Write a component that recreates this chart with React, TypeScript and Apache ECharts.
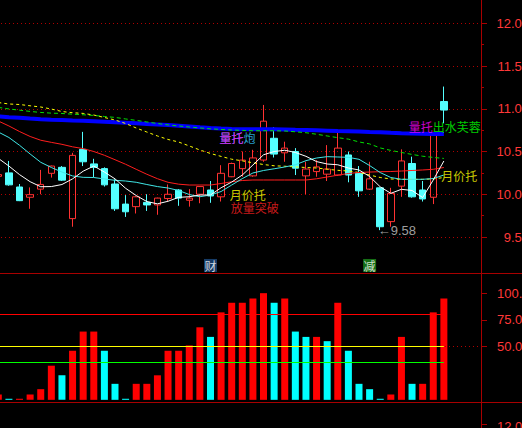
import React, { useEffect, useRef } from 'react';
import * as echarts from 'echarts';

// ---------- data ----------
const categories = Array.from({ length: 46 }, (_, i) => String(i + 1));

// [open, close, low, high]
const ohlc: number[][] = [
  [10.21, 10.23, 10.19, 10.25],
  [10.25, 10.11, 10.10, 10.39],
  [10.085, 9.925, 9.92, 10.12],
  [9.965, 9.995, 9.83, 10.08],
  [10.06, 10.115, 10.0, 10.285],
  [10.245, 10.33, 10.195, 10.335],
  [10.315, 10.165, 10.155, 10.33],
  [9.715, 10.455, 9.62, 10.485],
  [10.525, 10.38, 10.33, 10.73],
  [10.355, 10.315, 10.2, 10.415],
  [10.30, 10.11, 10.09, 10.315],
  [10.12, 9.83, 9.805, 10.175],
  [9.885, 9.795, 9.735, 9.99],
  [9.855, 9.97, 9.775, 9.98],
  [9.905, 9.875, 9.805, 10.0],
  [9.875, 9.955, 9.76, 9.96],
  [9.95, 10.0, 9.92, 10.115],
  [10.05, 9.955, 9.865, 10.06],
  [9.93, 9.955, 9.855, 10.06],
  [10.0, 10.09, 9.895, 10.095],
  [10.05, 9.98, 9.90, 10.155],
  [9.97, 10.245, 9.915, 10.34],
  [10.205, 10.36, 10.2, 10.37],
  [10.30, 10.40, 10.205, 10.50],
  [10.215, 10.425, 10.205, 10.52],
  [10.40, 10.855, 10.38, 11.045],
  [10.655, 10.47, 10.43, 10.785],
  [10.485, 10.54, 10.38, 10.615],
  [10.50, 10.305, 10.225, 10.54],
  [10.215, 10.295, 10.0, 10.38],
  [10.265, 10.32, 10.205, 10.40],
  [10.235, 10.295, 10.155, 10.575],
  [10.225, 10.54, 10.215, 10.72],
  [10.46, 10.225, 10.14, 10.50],
  [10.245, 10.04, 9.97, 10.33],
  [10.06, 10.18, 10.05, 10.38],
  [10.075, 9.62, 9.58, 10.08],
  [9.68, 10.01, 9.62, 10.075],
  [10.095, 10.39, 9.97, 10.525],
  [10.36, 9.97, 9.96, 10.44],
  [10.05, 9.945, 9.915, 10.155],
  [9.965, 10.72, 9.885, 10.73],
  [11.085, 10.985, 10.83, 11.26],
];

const ma5 = [10.42, 10.33, 10.23, 10.147, 10.088, 10.09, 10.114, 10.18, 10.27, 10.33, 10.26, 10.18, 10.07, 9.985, 9.915, 9.888, 9.918, 9.964, 9.971, 9.991, 9.991, 10.076, 10.143, 10.225, 10.342, 10.462, 10.5, 10.515, 10.489, 10.444, 10.382, 10.354, 10.345, 10.307, 10.284, 10.208, 10.087, 10.011, 10.058, 10.044, 9.962, 10.167, 10.389];
const ma10 = [10.728, 10.664, 10.573, 10.471, 10.374, 10.313, 10.26, 10.214, 10.198, 10.196, 10.179, 10.163, 10.155, 10.14, 10.114, 10.09, 10.073, 10.044, 9.997, 9.971, 9.991, 10.032, 10.108, 10.183, 10.249, 10.278, 10.298, 10.319, 10.345, 10.393, 10.424, 10.44, 10.436, 10.432, 10.409, 10.336, 10.254, 10.196, 10.175, 10.175, 10.175, 10.184, 10.225];
const ma20 = [10.857, 10.799, 10.734, 10.676, 10.632, 10.607, 10.584, 10.555, 10.534, 10.5, 10.456, 10.404, 10.351, 10.292, 10.234, 10.182, 10.14, 10.118, 10.108, 10.108, 10.108, 10.126, 10.146, 10.161, 10.167, 10.167, 10.167, 10.167, 10.167, 10.167, 10.181, 10.202, 10.223, 10.243, 10.255, 10.26, 10.264, 10.266, 10.272, 10.278, 10.284, 10.292, 10.313];
const ma60 = [11.073, 11.056, 11.05, 11.035, 11.021, 10.997, 10.968, 10.954, 10.946, 10.927, 10.898, 10.869, 10.828, 10.775, 10.728, 10.682, 10.641, 10.611, 10.565, 10.518, 10.477, 10.443, 10.41, 10.391, 10.368, 10.348, 10.333, 10.328, 10.32, 10.313, 10.307, 10.293, 10.28, 10.272, 10.255, 10.225, 10.196, 10.179, 10.175, 10.175, 10.175, 10.179, 10.196];
const ma120 = [11.016, 10.998, 10.984, 10.969, 10.957, 10.949, 10.945, 10.937, 10.93, 10.922, 10.91, 10.899, 10.881, 10.864, 10.846, 10.828, 10.811, 10.799, 10.787, 10.776, 10.766, 10.758, 10.752, 10.747, 10.743, 10.743, 10.743, 10.74, 10.731, 10.72, 10.702, 10.682, 10.662, 10.645, 10.612, 10.589, 10.542, 10.513, 10.489, 10.466, 10.445, 10.431, 10.419];
const ma250 = [10.91, 10.901, 10.896, 10.886, 10.877, 10.872, 10.869, 10.863, 10.859, 10.854, 10.849, 10.842, 10.837, 10.83, 10.822, 10.816, 10.81, 10.802, 10.793, 10.783, 10.775, 10.768, 10.763, 10.761, 10.76, 10.76, 10.76, 10.758, 10.754, 10.752, 10.748, 10.744, 10.74, 10.737, 10.733, 10.728, 10.725, 10.719, 10.714, 10.711, 10.709, 10.706, 10.705];

const indicator = [5, 1, 1, 5, 10, 32, 23, 46, 64, 64, 46, 15, 1, 15, 15, 23, 46, 46, 51, 68, 59, 82, 91, 91, 95, 100, 91, 95, 64, 59, 59, 55, 91, 46, 15, 10, 1, 5, 59, 15, 15, 82, 95];
const indicatorUp = [1, 0, 1, 1, 1, 1, 0, 1, 1, 1, 0, 0, 0, 1, 1, 1, 1, 1, 1, 1, 0, 1, 1, 1, 1, 1, 0, 1, 0, 0, 1, 0, 1, 0, 0, 0, 0, 1, 1, 0, 1, 1, 1];
const levelHigh = 80;
const levelMid = 50;
const levelLow = 35;

const thirdPanelTopLabel = '12.00';

const annotations = [
  { index: 21, price: 10.664, text: '量托炮' },
  { index: 21, price: 10.664, text: '量托' },
  { index: 22, price: 10.003, text: '月价托' },
  { index: 22, price: 9.845, text: '放量突破' },
  { index: 41, price: 10.793, text: '量托' },
  { index: 41, price: 10.793, text: '出水芙蓉' },
  { index: 42, price: 10.225, text: '月价托' },
  { index: 36, price: 9.58, text: '←9.58' },
];
const events = [
  { index: 20, text: '财' },
  { index: 35, text: '减' },
];

// ---------- styles ----------
const AXIS = '#a80000';
const GRID = '#b00000';
const LABEL = '#ff3838';
const RED = '#ff3232';
const CYAN = '#54ffff';
const CJK = 'Noto Sans CJK SC';
const NUM = 'Liberation Sans';

const annoStyles = [
  { color: '#30c8ff', align: 'left', dx: -1, font: CJK, size: 12 },
  { color: '#ff00ff', align: 'left', dx: -1, font: CJK, size: 12 },
  { color: '#ffff00', align: 'left', dx: -1.5, font: CJK, size: 12 },
  { color: '#ff2020', align: 'left', dx: -0.5, font: CJK, size: 12 },
  { color: '#ff00ff', align: 'right', dx: 0, font: CJK, size: 12 },
  { color: '#00ff00', align: 'left', dx: 0, font: CJK, size: 12 },
  { color: '#ffff00', align: 'left', dx: -2, font: CJK, size: 12 },
  { color: '#c8c8c8', align: 'left', dx: -2, font: NUM + ', DejaVu Sans', size: 13 },
];
const eventColors = ['#1c4a80', '#1a8a1a'];
const MARKER_LEVEL = 9.167;

const LEFT = -7;
const RIGHT = 41;
// bottom panel scale: 16/15 px per unit, value 50 at y = 346.5
const PX = 16 / 15;
const IND_MIN = -1.1;
const IND_TOP = 346.5 - 50 * PX;

export default function App() {
  const ref = useRef<HTMLDivElement>(null);
  useEffect(() => {
    if (!ref.current) return;
    const chart = echarts.init(ref.current, null, { renderer: 'svg' });
    const lineSeries = (data: number[], color: string, width: number, type: any, z: number) => ({
      type: 'line',
      xAxisIndex: 0,
      yAxisIndex: 0,
      data,
      symbol: 'none',
      silent: true,
      z,
      lineStyle: { color, width, type },
    });
    const lastIdx = indicator.length - 1;
    const refLine = (value: number, color: string, full: boolean, z: number) => ({
      type: 'line',
      xAxisIndex: 1,
      yAxisIndex: 1,
      data: [],
      silent: true,
      z,
      markLine: {
        silent: true,
        symbol: 'none',
        animation: false,
        label: { show: false },
        emphasis: { disabled: true },
        lineStyle: { color, width: 1, type: full ? [1, 3] : 'solid', opacity: 1 },
        data: full
          ? [{ yAxis: value }]
          : [[{ coord: [0, value] }, { coord: [lastIdx, value] }]],
      },
    });
    const option: any = {
      backgroundColor: '#000000',
      animation: false,
      grid: [
        { left: LEFT, right: RIGHT, top: 23.3, height: 213.7, containLabel: false, outerBoundsMode: 'none' },
        { left: LEFT, right: RIGHT, top: IND_TOP, height: (100 - IND_MIN) * PX, containLabel: false, outerBoundsMode: 'none' },
        { left: LEFT, right: RIGHT, top: IND_TOP, height: 50 * PX, containLabel: false, outerBoundsMode: 'none' },
      ],
      xAxis: [0, 1, 2].map((i) => ({
        type: 'category',
        gridIndex: i,
        data: categories,
        boundaryGap: true,
        show: false,
      })),
      yAxis: [
        {
          gridIndex: 0,
          type: 'value',
          position: 'right',
          min: 9.5,
          max: 12,
          interval: 0.5,
          axisLine: { show: false },
          axisTick: { show: true, length: 6, lineStyle: { color: AXIS, width: 1 } },
          minorTick: { show: true, splitNumber: 2, length: 3, lineStyle: { color: AXIS, width: 1 } },
          splitLine: { show: true, lineStyle: { color: GRID, width: 1, type: [1, 3] } },
          minorSplitLine: { show: false },
          axisLabel: {
            align: 'right',
            margin: 48,
            color: LABEL,
            fontSize: 13,
            fontFamily: NUM,
            formatter: (v: number) => v.toFixed(2),
          },
        },
        { gridIndex: 1, type: 'value', min: IND_MIN, max: 100, show: false },
        {
          gridIndex: 2,
          type: 'value',
          position: 'right',
          min: 50,
          max: 100,
          interval: 25,
          axisLine: { show: false },
          axisTick: { show: true, length: 6, lineStyle: { color: AXIS, width: 1 } },
          splitLine: { show: false },
          axisLabel: {
            align: 'left',
            margin: 16,
            color: LABEL,
            fontSize: 13,
            fontFamily: NUM,
            formatter: (v: number) => v.toFixed(2),
          },
        },
      ],
      graphic: [
        { type: 'line', silent: true, shape: { x1: 481.5, y1: 0, x2: 481.5, y2: 428 }, style: { stroke: AXIS, lineWidth: 1 } },
        { type: 'line', silent: true, shape: { x1: 0, y1: 273.5, x2: 522, y2: 273.5 }, style: { stroke: AXIS, lineWidth: 1 } },
        { type: 'line', silent: true, shape: { x1: 0, y1: 402.5, x2: 522, y2: 402.5 }, style: { stroke: AXIS, lineWidth: 1 } },
        { type: 'line', silent: true, shape: { x1: 481, y1: 424.5, x2: 487, y2: 424.5 }, style: { stroke: AXIS, lineWidth: 1 } },
        {
          type: 'text',
          silent: true,
          x: 497,
          y: 426,
          style: {
            text: thirdPanelTopLabel,
            fill: LABEL,
            font: `13px "${NUM}"`,
            textVerticalAlign: 'middle',
            verticalAlign: 'middle',
          },
        },
      ],
      series: [
        {
          type: 'candlestick',
          xAxisIndex: 0,
          yAxisIndex: 0,
          data: ohlc,
          barWidth: 7,
          silent: true,
          z: 2,
          itemStyle: {
            color: 'transparent',
            color0: CYAN,
            borderColor: RED,
            borderColor0: CYAN,
            borderWidth: 1,
          },
        },
        lineSeries(ma250, '#0000ff', 4, 'solid', 3),
        lineSeries(ma120, '#00e000', 1, [4, 3], 3),
        lineSeries(ma60, '#ffff00', 1, [3, 3], 3),
        lineSeries(ma20, '#ff1e1e', 1, 'solid', 4),
        lineSeries(ma10, '#40e6e6', 1, 'solid', 4),
        lineSeries(ma5, '#ffffff', 1, 'solid', 5),
        {
          type: 'scatter',
          xAxisIndex: 0,
          yAxisIndex: 0,
          silent: true,
          clip: false,
          z: 10,
          symbolSize: 1,
          itemStyle: { color: 'rgba(0,0,0,0)' },
          data: annotations.map((a, i) => ({
            value: [a.index, a.price],
            label: {
              show: true,
              formatter: a.text,
              position: [annoStyles[i].dx, 0.5],
              align: annoStyles[i].align,
              verticalAlign: 'middle',
              lineHeight: 12,
              color: annoStyles[i].color,
              fontSize: annoStyles[i].size,
              fontFamily: annoStyles[i].font,
            },
          })),
        },
        {
          type: 'scatter',
          xAxisIndex: 0,
          yAxisIndex: 0,
          silent: true,
          clip: false,
          z: 10,
          symbol: 'rect',
          symbolSize: [13, 13],
          data: events.map((e, i) => ({
            value: [e.index, MARKER_LEVEL],
            name: e.text,
            itemStyle: { color: eventColors[i] },
          })),
          label: {
            show: true,
            position: 'inside',
            formatter: '{b}',
            color: '#ffffff',
            fontSize: 12,
            lineHeight: 12,
            fontFamily: CJK,
          },
        },
        {
          type: 'bar',
          xAxisIndex: 1,
          yAxisIndex: 1,
          barWidth: 7,
          silent: true,
          z: 2,
          data: indicator.map((v, i) => ({
            value: v,
            itemStyle: { color: indicatorUp[i] ? '#ff0000' : '#00ffff' },
          })),
        },
        refLine(levelMid, GRID, true, 3),
        refLine(levelHigh, '#ff0000', false, 4),
        refLine(levelMid, '#ffff00', false, 4),
        refLine(levelLow, '#00ff00', false, 4),
      ],
    };
    chart.setOption(option);
    return () => chart.dispose();
  }, []);
  return (
    <div
      ref={ref}
      style={{ position: 'absolute', left: 0, top: 0, width: 522, height: 428, background: '#000' }}
    />
  );
}
